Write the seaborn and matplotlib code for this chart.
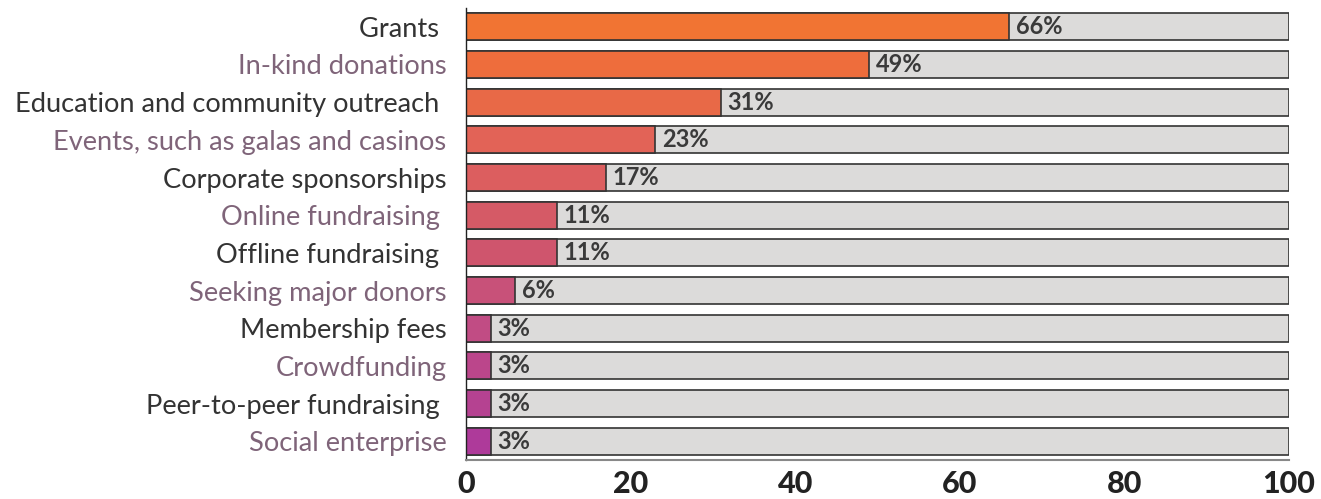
import matplotlib
matplotlib.use("Agg")
import matplotlib.pyplot as plt
import seaborn as sns
import pandas as pd

# Funding sources and share of organisations using them (%)
categories = [
    "Grants ",
    "In-kind donations",
    "Education and community outreach ",
    "Events, such as galas and casinos",
    "Corporate sponsorships",
    "Online fundraising ",
    "Offline fundraising ",
    "Seeking major donors",
    "Membership fees",
    "Crowdfunding",
    "Peer-to-peer fundraising ",
    "Social enterprise",
]
values = [66, 49, 31, 23, 17, 11, 11, 6, 3, 3, 3, 3]
totals = [100] * len(categories)
x_ticks = [0, 20, 40, 60, 80, 100]

bar_colors = [
    "#F17433", "#EE6D3C", "#E86947", "#E26357", "#DC5E5F", "#D55A66",
    "#CF556D", "#C85179", "#C14C84", "#BB468B", "#B54291", "#AE3A9A",
]
label_colors = ["#333333", "#7F6479"] * 6

sns.set_theme(style="white")
plt.rcParams["font.family"] = ["Lato", "DejaVu Sans"]

df = pd.DataFrame({"category": categories, "value": values, "total": totals})

fig = plt.figure(figsize=(13.21, 4.99), dpi=100)
ax = fig.add_axes([0.3528, 0.078, 0.6230, 0.906])

sns.barplot(data=df, x="total", y="category", color="#DCDBDA", saturation=1,
            edgecolor="#333333", linewidth=1.2, width=0.72, ax=ax)
sns.barplot(data=df, x="value", y="category", hue="category",
            palette=bar_colors, legend=False, saturation=1,
            edgecolor="#333333", linewidth=1.2, width=0.72, ax=ax)

for i, v in enumerate(values):
    ax.text(v + 0.8, i, f"{v}%", va="center", ha="left",
            fontsize=17, fontweight="bold", color="#3A3A3A")

ax.set_xlim(0, 100)
ax.set_ylim(11.5, -0.5)
ax.set_xticks(x_ticks)
ax.set_xticklabels([str(t) for t in x_ticks], fontsize=22,
                   fontweight="black", color="#222222")
ax.set_xlabel("")
ax.set_ylabel("")
ax.tick_params(axis="y", length=0, pad=14, labelsize=19.6)
ax.tick_params(axis="x", direction="in", length=4, width=1,
               color="#555555", pad=7)
for lbl, c in zip(ax.get_yticklabels(), label_colors):
    lbl.set_color(c)

for side in ["top", "right"]:
    ax.spines[side].set_visible(False)
ax.spines["left"].set_color("#222222")
ax.spines["left"].set_linewidth(1)
ax.spines["bottom"].set_color("#888888")
ax.spines["bottom"].set_linewidth(1.5)

fig.savefig("out.png", dpi=100)
